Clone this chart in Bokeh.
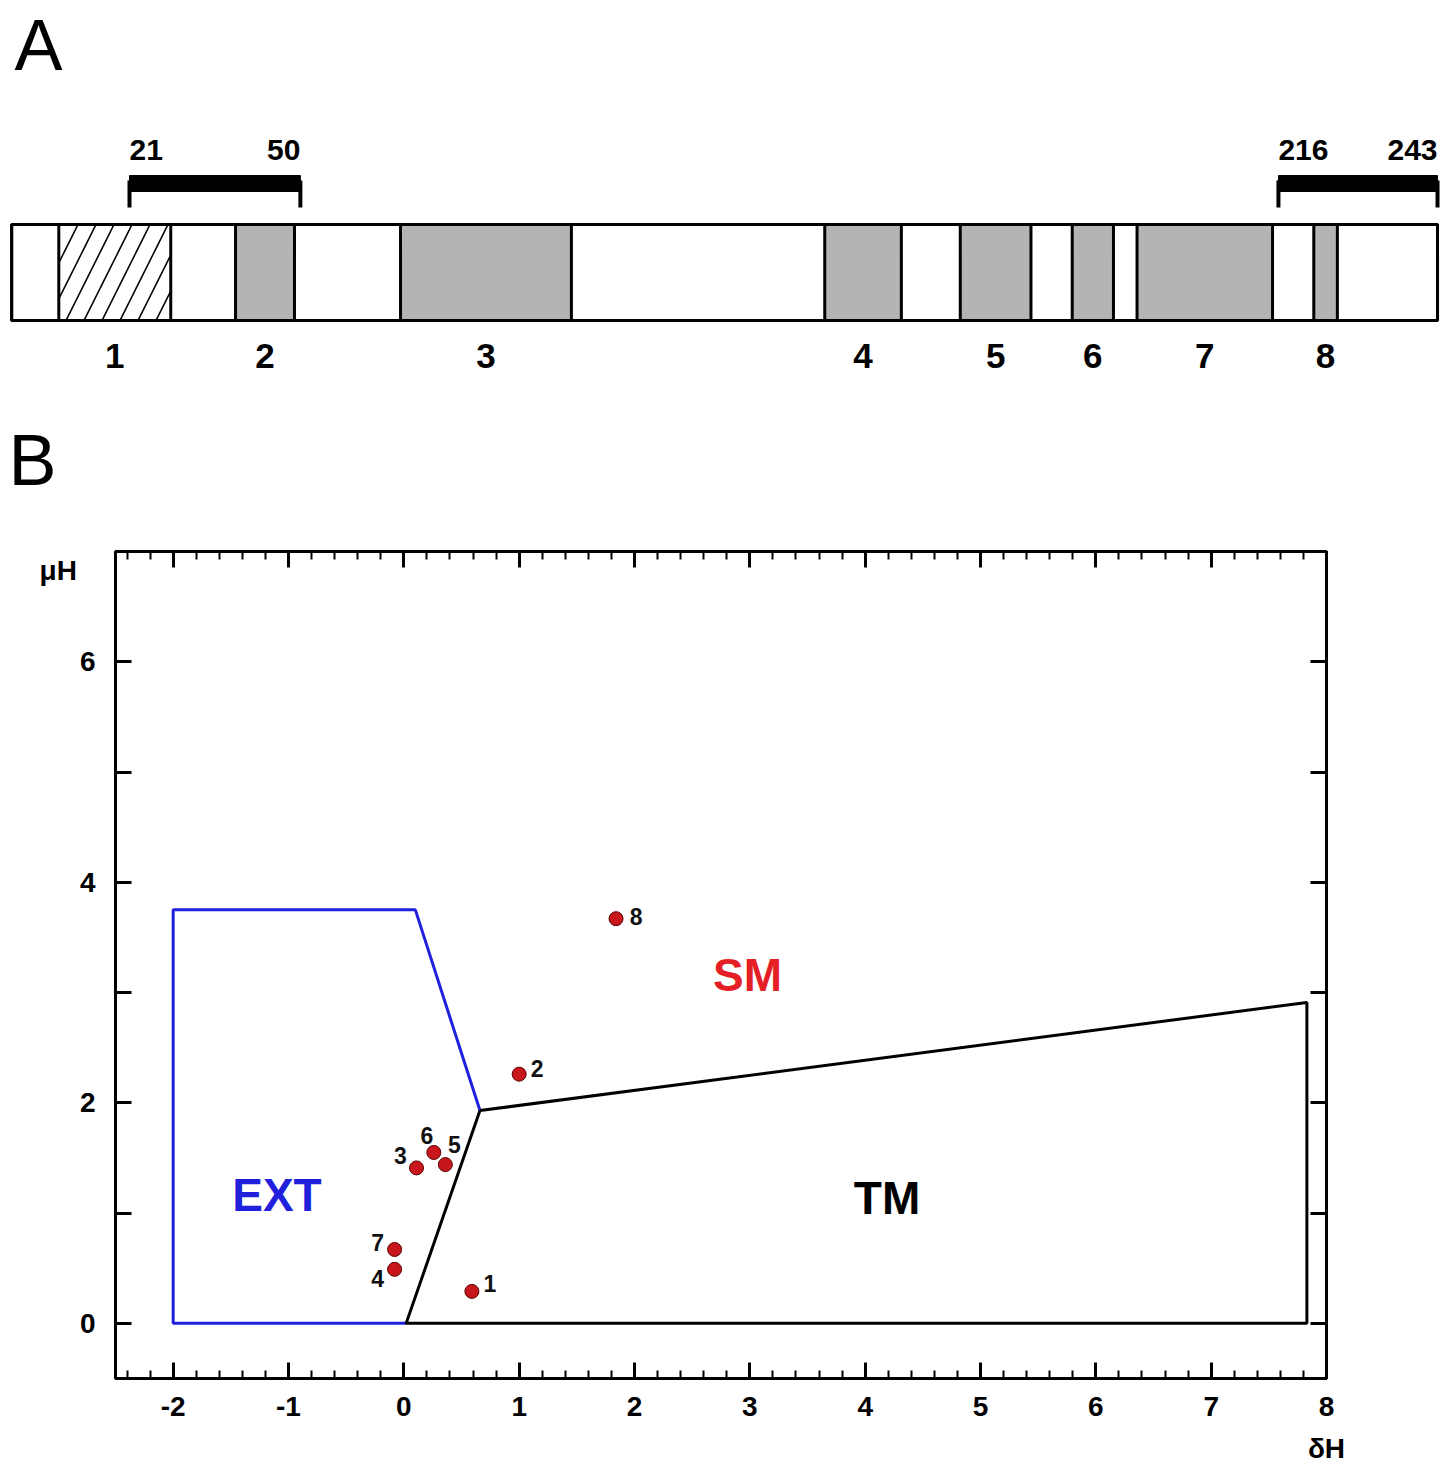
from bokeh.plotting import figure
from bokeh.models import Range1d, FixedTicker, LinearAxis, Label, ColumnDataSource
from bokeh.embed import file_html
from bokeh.resources import INLINE
from bokeh.core.properties import value

FONT = "Liberation Sans"

# ---------------- Panel A data ----------------
protein_length = 243
seg_names = ["1", "2", "3", "4", "5", "6", "7", "8"]
seg_start = [9, 39, 67, 139, 162, 181, 192, 222]
seg_end = [28, 49, 96, 152, 174, 188, 215, 226]
bracket_start = [21, 216]
bracket_end = [50, 243]

# ---------------- Panel B data ----------------
point_names = ["1", "2", "3", "4", "5", "6", "7", "8"]
delta_h = [0.59, 1.00, 0.11, -0.08, 0.36, 0.26, -0.08, 1.84]
mu_h = [0.29, 2.26, 1.41, 0.49, 1.44, 1.55, 0.67, 3.67]
ext_x = [0.02, -2.0, -2.0, 0.10, 0.66]
ext_y = [0.0, 0.0, 3.75, 3.75, 1.93]
tm_x = [0.66, 0.02, 7.83, 7.83, 0.66]
tm_y = [1.93, 0.0, 0.0, 2.91, 1.93]
region_names = ["EXT", "SM", "TM"]
region_x = [-1.10, 2.98, 4.19]
region_y = [1.16, 3.16, 1.14]
x_ticks = [-2, -1, 0, 1, 2, 3, 4, 5, 6, 7, 8]
x_tick_labels = {t: str(t) for t in x_ticks}
y_ticks = [0, 1, 2, 3, 4, 5, 6]
y_tick_labels = {0: "0", 1: "", 2: "2", 3: "", 4: "4", 5: "", 6: "6"}

# label placement (pixels) for the point numbers
lab_dx = [18, 18, -16, -17, 9, -7, -17, 20]
lab_dy = [-8, -6, -12, 9, -20, -17, -7, -2]
region_colors = ["#1f1fdc", "#e41f26", "black"]

W = 1442
# ================= Panel A (also holds panel letter B) =================
HA = 500
PX_PER_RES = 5.892
x0_res = 21 - 129 / PX_PER_RES
pa = figure(width=W, height=HA, x_range=Range1d(x0_res, x0_res + W / PX_PER_RES),
            y_range=Range1d(HA, 0), output_backend="svg",
            toolbar_location=None, min_border=0,
            x_axis_location=None, y_axis_location=None)
pa.grid.visible = False
pa.outline_line_color = None

BAR_TOP, BAR_BOT = 224, 320
pa.quad(left=[1], right=[protein_length], top=BAR_TOP, bottom=BAR_BOT,
        fill_color="white", line_color="black", line_width=3)
pa.quad(left=seg_start[1:], right=seg_end[1:], top=BAR_TOP, bottom=BAR_BOT,
        fill_color="#b4b4b4", line_color="black", line_width=3)
pa.quad(left=seg_start[:1], right=seg_end[:1], top=BAR_TOP, bottom=BAR_BOT,
        fill_color="white", line_color="black", line_width=3,
        hatch_pattern="/", hatch_scale=36, hatch_weight=1.6, hatch_color="black")
pa.quad(left=[1], right=[protein_length], top=BAR_TOP, bottom=BAR_BOT,
        fill_color=None, line_color="black", line_width=3)

# brackets
pa.quad(left=bracket_start, right=bracket_end, top=175, bottom=191,
        fill_color="black", line_color="black", line_width=1)
pa.segment(x0=bracket_start + bracket_end, y0=[180] * 4,
           x1=bracket_start + bracket_end, y1=[207] * 4,
           line_color="black", line_width=4)
pa.text(x=bracket_start, y=[149, 149], text=[str(v) for v in bracket_start],
        text_align="left", text_baseline="middle", text_font=value(FONT),
        text_font_style="bold", text_font_size="30px", text_color="black")
pa.text(x=bracket_end, y=[149, 149], text=[str(v) for v in bracket_end],
        text_align="right", text_baseline="middle", text_font=value(FONT),
        text_font_style="bold", text_font_size="30px", text_color="black")

seg_center = [(a + b) / 2 for a, b in zip(seg_start, seg_end)]
pa.text(x=seg_center, y=[355] * len(seg_center), text=seg_names,
        text_align="center", text_baseline="middle", text_font=value(FONT),
        text_font_style="bold", text_font_size="35px", text_color="black")

pa.add_layout(Label(x=x0_res + 14 / PX_PER_RES, y=44, text="A", text_font=FONT,
                    text_font_size="72px", text_align="left",
                    text_baseline="middle", text_color="black"))
pa.add_layout(Label(x=x0_res + 8 / PX_PER_RES, y=459, text="B", text_font=FONT,
                    text_font_size="72px", text_align="left",
                    text_baseline="middle", text_color="black"))

# ================= Panel B =================
HB = 1469 - HA
pb = figure(width=W, height=HB, x_range=Range1d(-2.5, 8.0), y_range=Range1d(-0.5, 7.0),
            output_backend="svg", toolbar_location=None,
            min_border_left=115, min_border_right=116, min_border_top=51,
            min_border_bottom=91, x_axis_location=None, y_axis_location=None)
pb.grid.visible = False
pb.outline_line_color = "black"
pb.outline_line_width = 3

x_minor = [round(-2.4 + 0.2 * i, 1) for i in range(53)]
xt = FixedTicker(ticks=x_ticks, minor_ticks=x_minor)
yt = FixedTicker(ticks=y_ticks, minor_ticks=[])

def style_axis(ax):
    ax.axis_line_width = 3
    ax.axis_line_color = "black"
    ax.major_tick_in = 16
    ax.major_tick_out = 0
    ax.major_tick_line_width = 3
    ax.minor_tick_in = 8
    ax.minor_tick_out = 0
    ax.minor_tick_line_width = 2
    ax.major_label_text_font = FONT
    ax.major_label_text_font_style = "bold"
    ax.major_label_text_font_size = "28px"
    ax.major_label_text_color = "black"
    ax.axis_label_text_font = FONT
    ax.axis_label_text_font_style = "bold"
    ax.axis_label_text_font_size = "28px"
    ax.axis_label_text_color = "black"

xb = LinearAxis(ticker=xt, major_label_overrides=x_tick_labels)
style_axis(xb)
xb.major_label_standoff = 18
xa = LinearAxis(ticker=xt, major_label_overrides={t: "" for t in x_ticks})
style_axis(xa)
xa.major_label_standoff = 0
yl = LinearAxis(ticker=yt, major_label_overrides=y_tick_labels)
style_axis(yl)
yl.major_label_standoff = 20
yl.minor_tick_line_color = None
yr = LinearAxis(ticker=yt, major_label_overrides={t: "" for t in y_ticks})
style_axis(yr)
yr.major_label_standoff = 0
yr.minor_tick_line_color = None

yl.axis_label = "\nμH"
yl.axis_label_orientation = "horizontal"
yl.axis_label_align = "end"
yl.axis_label_standoff = 0
xb.axis_label = "δH"
xb.axis_label_align = "end"
xb.axis_label_standoff = 14

pb.add_layout(xb, "below")
pb.add_layout(xa, "above")
pb.add_layout(yl, "left")
pb.add_layout(yr, "right")

pb.line(ext_x, ext_y, line_color="#2020dd", line_width=3)
pb.line(tm_x, tm_y, line_color="black", line_width=3)

src = ColumnDataSource(dict(x=delta_h, y=mu_h, name=point_names, dx=lab_dx, dy=lab_dy))
pb.scatter("x", "y", source=src, size=14, fill_color="#c8161d",
           line_color="#5a0000", line_width=1)
pb.text("x", "y", text="name", source=src, x_offset="dx", y_offset="dy",
        text_align="center", text_baseline="middle", text_font=value(FONT),
        text_font_style="bold", text_font_size="23px", text_color="#111111")

pb.text(x=region_x, y=region_y, text=region_names, text_color=region_colors,
        text_align="center", text_baseline="middle", text_font=value(FONT),
        text_font_style="bold", text_font_size="46px")

open("out.html", "w").write(file_html([pa, pb], INLINE))
